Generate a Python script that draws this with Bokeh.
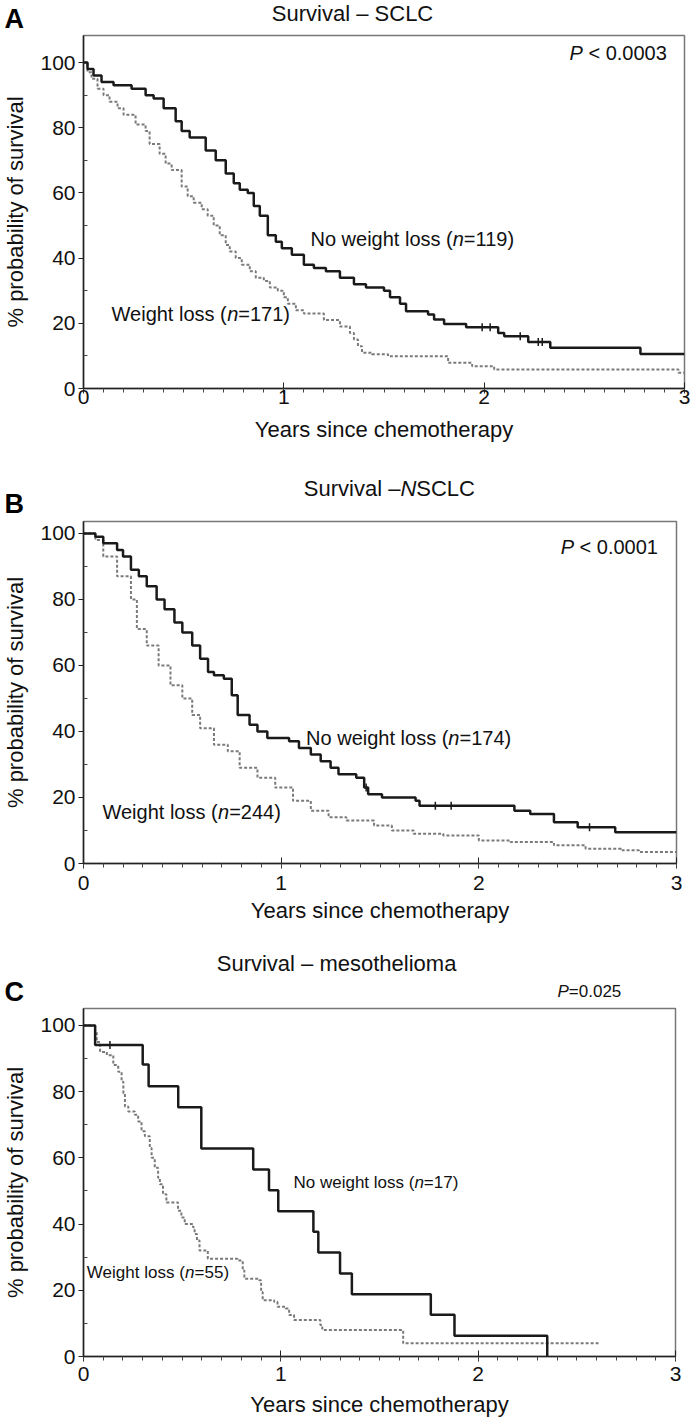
import numpy as np
from bokeh.plotting import figure
from bokeh.models import Range1d, FixedTicker, Label
from bokeh.embed import file_html
from bokeh.resources import INLINE

FONT = "Liberation Sans"
W = 690

# Panel A - SCLC (Kaplan-Meier, % surviving after each step)
a_no_t = [0, 0.02, 0.05, 0.09, 0.15, 0.24, 0.31, 0.35, 0.40, 0.46, 0.49, 0.53, 0.61,
          0.66, 0.71, 0.75, 0.78, 0.82, 0.85, 0.88, 0.92, 0.96, 0.99, 1.04, 1.10,
          1.15, 1.21, 1.28, 1.35, 1.41, 1.50, 1.53, 1.58, 1.61, 1.72, 1.75, 1.80,
          1.91, 2.07, 2.10, 2.22, 2.33, 2.78, 3.00]
a_no_s = [100, 98, 96, 94, 93, 92, 90, 89, 86, 82, 79, 77, 73,
          70, 66, 63, 61, 60, 56, 53, 47, 45, 43, 41, 38,
          37, 36, 34, 32, 31, 30, 28, 26, 23.7, 22.7, 21.2, 19.8,
          18.8, 17, 16, 14.3, 12.5, 10.6, 10.6]
a_no_cens = [1.99, 2.03, 2.18, 2.27, 2.29]
a_wl_t = [0, 0.02, 0.04, 0.07, 0.10, 0.13, 0.17, 0.20, 0.26, 0.31, 0.33, 0.38, 0.41,
          0.44, 0.49, 0.52, 0.55, 0.59, 0.62, 0.65, 0.68, 0.71, 0.73, 0.76, 0.79,
          0.83, 0.86, 0.90, 0.93, 0.97, 1.00, 1.02, 1.06, 1.10, 1.20, 1.28, 1.33,
          1.35, 1.37, 1.39, 1.44, 1.52, 1.82, 1.94, 2.05, 2.97, 3.00]
a_wl_s = [100, 97, 95, 92, 90, 88, 86, 84, 81, 79, 75, 72, 69,
          67, 62, 59, 57, 55, 53, 50, 47, 44, 42, 40, 38,
          36, 34, 33, 31, 30, 28, 26, 24, 23, 21, 19, 17,
          15, 13, 11, 10.5, 9.9, 7.9, 6.8, 5.8, 4.8, 4.8]

# Panel B - NSCLC
b_no_t = [0, 0.06, 0.10, 0.17, 0.20, 0.24, 0.28, 0.32, 0.37, 0.41, 0.46, 0.50, 0.55,
          0.59, 0.63, 0.66, 0.71, 0.75, 0.78, 0.84, 0.88, 0.93, 1.04, 1.09, 1.15,
          1.20, 1.25, 1.29, 1.38, 1.42, 1.44, 1.51, 1.68, 1.70, 2.18, 2.26, 2.38,
          2.50, 2.69, 3.00]
b_no_s = [100, 99, 97, 95, 93, 89, 87, 84, 80, 77, 73, 70, 66,
          62, 58, 57, 56, 51, 45, 42, 40, 38, 37, 35, 33,
          31, 29, 27, 26, 23, 21, 20, 19, 17.5, 16, 15, 12.5,
          11, 9.5, 9.5]
b_no_cens = [1.43, 1.78, 1.86, 2.56]
b_wl_t = [0, 0.06, 0.10, 0.17, 0.24, 0.27, 0.32, 0.38, 0.44, 0.50, 0.55, 0.59, 0.66,
          0.73, 0.79, 0.88, 0.97, 1.06, 1.15, 1.24, 1.33, 1.47, 1.56, 1.67, 1.82,
          2.00, 2.16, 2.38, 2.54, 2.72, 2.81, 3.00]
b_wl_s = [100, 98, 93, 87, 80, 71, 66, 60, 54, 50, 45, 41, 36,
          34, 29, 26, 23, 19, 16, 14, 13, 11.5, 10, 9, 8.5,
          7, 6.5, 5.5, 4.5, 4, 3.5, 3.5]

# Panel C - mesothelioma
c_no_t = [0, 0.059, 0.30, 0.33, 0.48, 0.597, 0.86, 0.94, 0.987, 1.165, 1.19, 1.30,
          1.36, 1.76, 1.88, 2.35]
c_no_s = [100, 94.1, 88.2, 81.6, 75.3, 62.8, 56.5, 50.2, 43.9, 37.7, 31.4, 25.1,
          18.8, 12.6, 6.3, 0]
c_no_cens = [0.134]
c_wl_t = [0, 0.059, 0.067, 0.084, 0.118, 0.151, 0.176, 0.193, 0.202, 0.21, 0.227,
          0.26, 0.277, 0.294, 0.311, 0.336, 0.345, 0.361, 0.378, 0.387, 0.403, 0.42,
          0.479, 0.496, 0.513, 0.555, 0.563, 0.575, 0.588, 0.63, 0.78, 0.807, 0.815,
          0.89, 0.90, 0.908, 0.966, 0.983, 1.025, 1.042, 1.067, 1.20, 1.21, 1.62, 2.61]
c_wl_s = [100, 98, 95, 92, 91, 88, 86, 83, 79.5, 75.5, 74,
          73, 71, 68, 66.5, 63, 60, 57, 54, 52, 49, 46.5,
          44, 42, 40, 39, 37, 35, 32, 29.5, 29, 26, 23.5,
          23, 19.5, 17, 16.5, 15, 14.5, 12.5, 11, 9.5, 8, 4, 4]

x_ticks = [0, 1, 2, 3]
y_ticks = [0, 20, 40, 60, 80, 100]

# Arial / Liberation Sans advance widths (em) to place mixed italic pieces
CHAR_W = {" ": .278, "(": .333, ")": .333, ".": .278, "<": .584, "=": .584, "–": .556,
          "C": .722, "L": .556, "N": .722, "P": .667, "S": .667, "W": .944,
          "a": .556, "e": .556, "g": .556, "h": .556, "i": .222, "l": .222, "m": .833,
          "n": .556, "o": .556, "r": .333, "s": .5, "t": .278, "u": .556, "v": .5, "w": .722}


def text_w(s, size):
    return sum(CHAR_W.get(c, .556) for c in s) * size


def rich(p, x, y, pieces, size, align="left"):
    widths = [text_w(t, size) for t, _ in pieces]
    off = 0 if align == "left" else -sum(widths) / 2
    for (t, style), w in zip(pieces, widths):
        lead = len(t) - len(t.lstrip(" "))
        p.add_layout(Label(x=x, y=y, x_offset=off + text_w(" " * lead, size), text=t.strip(),
                           text_font=FONT, text_font_size=f"{size}px", text_font_style=style,
                           text_color="#111111", text_baseline="middle", text_align="left"))
        off += w


def panel(h, left, right, bottom, ytop, tick_sd, lab_sd):
    p = figure(width=W, height=h, x_range=Range1d(0, 3), y_range=Range1d(0, ytop),
               output_backend="svg", toolbar_location=None,
               min_border_left=left, min_border_right=right,
               min_border_top=2, min_border_bottom=bottom)
    p.xgrid.visible = False
    p.ygrid.visible = False
    p.outline_line_color = "#777777"
    p.outline_line_width = 1.5
    p.xaxis.ticker = FixedTicker(ticks=x_ticks, minor_ticks=[i / 10 for i in range(31)])
    p.yaxis.ticker = FixedTicker(ticks=y_ticks, minor_ticks=[10, 30, 50, 70, 90])
    p.xaxis.axis_label = "Years since chemotherapy"
    p.yaxis.axis_label = "% probability of survival"
    for ax in (p.xaxis[0], p.yaxis[0]):
        ax.axis_line_color = "#222222"
        ax.axis_line_width = 1.5
        ax.major_tick_line_color = "#222222"
        ax.minor_tick_line_color = "#444444"
        ax.major_label_text_font = FONT
        ax.major_label_text_font_size = "21px"
        ax.major_label_text_color = "#111111"
        ax.axis_label_text_font = FONT
        ax.axis_label_text_font_size = "22px"
        ax.axis_label_text_font_style = "normal"
        ax.axis_label_text_color = "#111111"
    p.xaxis.major_tick_in = 6
    p.xaxis.major_tick_out = 5
    p.xaxis.minor_tick_in = 0
    p.xaxis.minor_tick_out = 4
    p.xaxis.major_label_standoff = tick_sd
    p.xaxis.axis_label_standoff = lab_sd
    p.yaxis.major_tick_in = 0
    p.yaxis.major_tick_out = 5
    p.yaxis.minor_tick_in = 4
    p.yaxis.minor_tick_out = 0
    p.yaxis.major_label_standoff = 3
    p.yaxis.axis_label_standoff = 9
    return p


def header(h, left, right):
    # strip above each panel, sharing the panel's horizontal scale
    ppy = (W - left - right) / 3
    hd = figure(width=W, height=h, x_range=Range1d(-left / ppy, 3 + right / ppy),
                y_range=Range1d(0, h), x_axis_type=None, y_axis_type=None,
                output_backend="svg", toolbar_location=None, min_border=0)
    hd.grid.visible = False
    hd.outline_line_color = None
    return hd


def curves(p, no_t, no_s, wl_t, wl_s, cens):
    p.step(wl_t, wl_s, mode="after", line_color="#7a7a7a", line_width=2, line_dash="3 2")
    p.step(no_t, no_s, mode="after", line_color="#1a1a1a", line_width=2.5)
    # censoring ticks sit on the curve level at that time
    idx = np.searchsorted(no_t, cens, side="right") - 1
    p.scatter(cens, np.asarray(no_s)[idx], marker="dash", angle=np.pi / 2, size=8,
              line_color="#1a1a1a", line_width=1.5)


def letter(p, x, y, s):
    p.add_layout(Label(x=x, y=y, text=s, text_font=FONT, text_font_size="27px",
                       text_font_style="bold", text_baseline="middle", text_color="#000000"))


# A
ha = header(33, 83, 6)
letter(ha, -0.394, 15, "A")
rich(ha, 1.343, 20, [("Survival – SCLC", "normal")], 22, align="center")
pa = panel(437, 83, 6, 82, 108.3, -4, 10)
curves(pa, a_no_t, a_no_s, a_wl_t, a_wl_s, a_no_cens)
rich(pa, 2.426, 103, [("P", "italic"), (" < 0.0003", "normal")], 20)
rich(pa, 1.133, 46, [("No weight loss (", "normal"), ("n", "italic"), ("=119)", "normal")], 20)
rich(pa, 0.14, 23, [("Weight loss (", "normal"), ("n", "italic"), ("=171)", "normal")], 20)

# B
hb = header(49, 82, 14)
letter(hb, -0.394, 16, "B")
rich(hb, 1.55, 31, [("Survival –", "normal"), ("N", "italic"), ("SCLC", "normal")], 22,
     align="center")
pb = panel(426, 82, 14, 82, 103.6, 7, 5)
curves(pb, b_no_t, b_no_s, b_wl_t, b_wl_s, b_no_cens)
rich(pb, 2.414, 95.8, [("P", "italic"), (" < 0.0001", "normal")], 20)
rich(pb, 1.126, 38, [("No weight loss (", "normal"), ("n", "italic"), ("=174)", "normal")], 20)
rich(pb, 0.096, 15.5, [("Weight loss (", "normal"), ("n", "italic"), ("=244)", "normal")], 20)

# C
hc = header(61, 80, 15)
letter(hc, -0.383, 15, "C")
rich(hc, 1.291, 43, [("Survival – mesothelioma", "normal")], 22, align="center")
rich(hc, 2.405, 15, [("P", "italic"), ("=0.025", "normal")], 17)
pc = panel(419, 80, 15, 69, 105.1, 5, 8)
curves(pc, c_no_t, c_no_s, c_wl_t, c_wl_s, c_no_cens)
rich(pc, 1.064, 52.5, [("No weight loss (", "normal"), ("n", "italic"), ("=17)", "normal")], 17)
rich(pc, 0.017, 25.5, [("Weight loss (", "normal"), ("n", "italic"), ("=55)", "normal")], 17)

# separate roots, so Bokeh does not align the header frames with the plot frames
open("out.html", "w").write(file_html([ha, pa, hb, pb, hc, pc], INLINE))
